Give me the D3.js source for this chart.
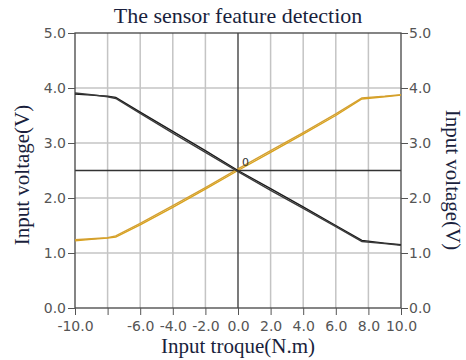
<!DOCTYPE html>
<html lang="en">
<head>
  <meta charset="UTF-8">
  <title>The sensor feature detection</title>
  <script src="https://d3js.org/d3.v7.min.js"></script>
  <style>
    body { margin: 0; background: #fff; }
    .tick text { font-family: "DejaVu Sans", sans-serif; font-size: 14px; fill: #555; }
    .tick line { stroke: #555; }
    .domain { display: none; }
    .label { font-family: "Liberation Serif", serif; font-size: 21px; fill: #1a1f3d; }
  </style>
</head>
<body>
  <div id="chart"></div>
  <script>
    const width = 466, height = 360;
    const margin = {top: 33, right: 65, bottom: 52, left: 75};

    // torque (N.m) and voltage (V), two sweeps per signal
    const torque = [-10, -9, -8, -7.5, -6, -4, -2, 0, 2, 4, 6, 7.6, 9, 10];
    const blackA = [3.89, 3.87, 3.85, 3.83, 3.56, 3.21, 2.86, 2.50, 2.17, 1.84, 1.50, 1.23, 1.18, 1.15];
    const blackB = [3.91, 3.88, 3.84, 3.81, 3.54, 3.18, 2.83, 2.48, 2.14, 1.81, 1.48, 1.21, 1.17, 1.14];
    const orangeA = [1.22, 1.25, 1.27, 1.29, 1.51, 1.83, 2.16, 2.50, 2.83, 3.16, 3.50, 3.80, 3.84, 3.87];
    const orangeB = [1.24, 1.26, 1.28, 1.31, 1.54, 1.86, 2.19, 2.53, 2.86, 3.19, 3.53, 3.82, 3.85, 3.88];

    const xTicks = [-10, -8, -6, -4, -2, 0, 2, 4, 6, 8, 10];
    const yTicks = [0, 1, 2, 3, 4, 5];
    const gridX = [-8, -6, -4, -2, 2, 4, 6, 8];
    const gridY = [1, 2, 3, 4];

    // plain hyphen instead of d3's unicode minus
    const fmt = d => d3.format(".1f")(d).replace("\u2212", "-");

    const svg = d3.select("#chart").append("svg")
        .attr("width", width)
        .attr("height", height);

    const x = d3.scaleLinear().domain([-10, 10]).range([margin.left, width - margin.right]);
    const y = d3.scaleLinear().domain([0, 5]).range([height - margin.bottom, margin.top]);

    // grid
    svg.append("g").selectAll("line").data(gridX).join("line")
        .attr("x1", d => x(d)).attr("x2", d => x(d))
        .attr("y1", y(5)).attr("y2", y(0))
        .attr("stroke", "#c4c4c4").attr("stroke-width", 1.5);
    svg.append("g").selectAll("line").data(gridY).join("line")
        .attr("x1", x(-10)).attr("x2", x(10))
        .attr("y1", d => y(d)).attr("y2", d => y(d))
        .attr("stroke", "#c4c4c4").attr("stroke-width", 1.5);

    // center cross
    svg.append("line")
        .attr("x1", x(0)).attr("x2", x(0)).attr("y1", y(5)).attr("y2", y(0))
        .attr("stroke", "#333").attr("stroke-width", 1.3);
    svg.append("line")
        .attr("x1", x(-10)).attr("x2", x(10)).attr("y1", y(2.5)).attr("y2", y(2.5))
        .attr("stroke", "#333").attr("stroke-width", 1.3);

    // frame
    svg.append("rect")
        .attr("x", x(-10)).attr("y", y(5))
        .attr("width", x(10) - x(-10)).attr("height", y(0) - y(5))
        .attr("fill", "none").attr("stroke", "#444").attr("stroke-width", 1.3);

    // axes
    svg.append("g")
        .attr("transform", `translate(0,${y(0)})`)
        .call(d3.axisBottom(x).tickValues(xTicks).tickSize(7).tickPadding(6)
          .tickFormat(d => d === -8 ? "" : fmt(d)));

    svg.append("g")
        .attr("transform", `translate(${x(-10)},0)`)
        .call(d3.axisLeft(y).tickValues(yTicks).tickSize(7).tickPadding(2)
          .tickFormat(fmt));

    svg.append("g")
        .attr("transform", `translate(${x(10)},0)`)
        .call(d3.axisRight(y).tickValues(yTicks).tickSize(7).tickPadding(1)
          .tickFormat(fmt));

    // lines
    const line = vals => d3.line()
        .x((d, i) => x(torque[i]))
        .y(d => y(d))(vals);

    [[orangeA, "#d9a21b"], [orangeB, "#d4a030"], [blackA, "#1a1a1a"], [blackB, "#3a3a3a"]]
      .forEach(([vals, color]) => {
        svg.append("path")
          .attr("d", line(vals))
          .attr("fill", "none")
          .attr("stroke", color)
          .attr("stroke-width", 1.4);
      });

    svg.append("text")
        .attr("x", x(0) + 4).attr("y", y(2.5) - 5)
        .attr("font-family", "DejaVu Sans, sans-serif")
        .attr("font-size", 11).attr("fill", "#333")
        .text("0");

    // titles
    svg.append("text").attr("class", "label")
        .attr("x", 238).attr("y", 23)
        .attr("text-anchor", "middle")
        .style("font-size", "22px")
        .text("The sensor feature detection");

    svg.append("text").attr("class", "label")
        .attr("x", 238).attr("y", 353)
        .attr("text-anchor", "middle")
        .text("Input troque(N.m)");

    svg.append("text").attr("class", "label")
        .attr("transform", "translate(29,175) rotate(-90)")
        .attr("text-anchor", "middle")
        .text("Input voltage(V)");

    svg.append("text").attr("class", "label")
        .attr("transform", "translate(446,180) rotate(90)")
        .attr("text-anchor", "middle")
        .text("Input voltage(V)");
  </script>
</body>
</html>
